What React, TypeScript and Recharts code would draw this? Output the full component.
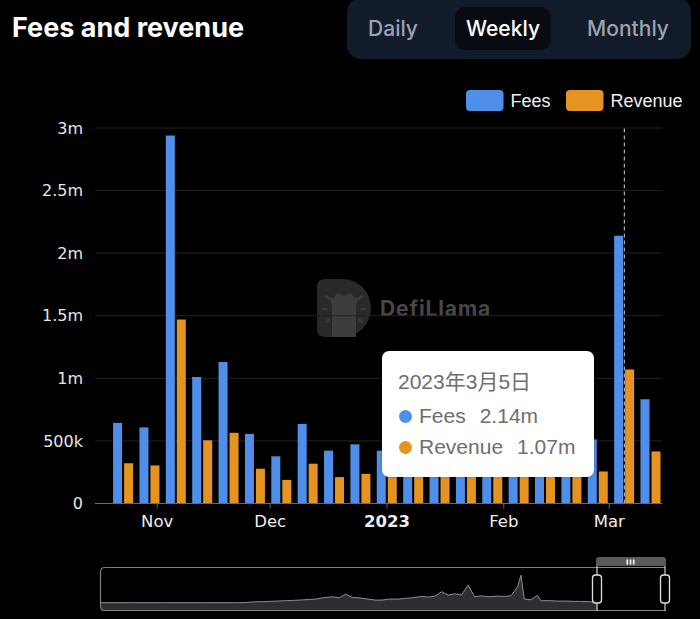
import React from 'react';
import {
  BarChart,
  Bar,
  XAxis,
  YAxis,
  CartesianGrid,
  Tooltip,
  ReferenceLine,
  AreaChart,
  Area,
} from 'recharts';

// ---------- data ----------
const weekStarts = [
  '2022-10-23', '2022-10-30', '2022-11-06', '2022-11-13', '2022-11-20', '2022-11-27',
  '2022-12-04', '2022-12-11', '2022-12-18', '2022-12-25', '2023-01-01', '2023-01-08',
  '2023-01-15', '2023-01-22', '2023-01-29', '2023-02-05', '2023-02-12', '2023-02-19',
  '2023-02-26', '2023-03-05', '2023-03-12',
];
const fees = [
  644000, 608000, 2940000, 1010000, 1130000, 556000, 377000, 636000, 422000, 473000,
  422000, 470000, 510000, 480000, 560000, 450000, 530000, 590000, 512000, 2140000, 832000,
];
const revenue = [
  322000, 304000, 1470000, 505000, 565000, 278000, 188500, 318000, 211000, 236500,
  211000, 235000, 255000, 240000, 280000, 225000, 265000, 295000, 256000, 1070000, 416000,
];
const seriesNames = ['Fees', 'Revenue'];
const seriesColors = ['#4f8fea', '#e59421'];

const yTicks = [0, 500000, 1000000, 1500000, 2000000, 2500000, 3000000];
const yTickLabels = ['0', '500k', '1m', '1.5m', '2m', '2.5m', '3m'];
const xTickDates = ['2022-11-01', '2022-12-01', '2023-01-01', '2023-02-01', '2023-03-01'];
const xTickLabels = ['Nov', 'Dec', '2023', 'Feb', 'Mar'];
const xDomainDates = ['2022-10-15T12:00:00Z', '2023-03-15T00:00:00Z'];
const selectedWeek = '2023-03-05';

// data-zoom shadow (whole history, relative weekly fees)
const shadowWeeks = [
  0, 10, 20, 30, 42, 44, 47, 49, 51, 53, 56, 58, 60, 63, 65, 67, 70, 72, 74, 76, 78, 80,
  83, 85, 87, 90, 92, 94, 97, 99, 101, 103, 105, 107, 109, 111, 113, 115, 117, 120, 122,
  124, 126, 127, 128, 130, 132, 133, 136, 138, 141, 143, 145, 148, 150,
];
const shadowValues = [
  8.3, 8.3, 8.3, 8.3, 8.3, 8.6, 9.3, 9.3, 9.6, 9.9, 10.3, 10.6, 10.9, 11.6, 11.9, 13.2,
  14.2, 13.2, 16.9, 13.6, 13.2, 12.3, 10.9, 10.9, 11.9, 11.9, 12.6, 13.2, 14.6, 13.9,
  14.9, 19.2, 15.9, 17.2, 15.9, 25.8, 14.2, 15.2, 14.2, 14.9, 14.6, 15.2, 24.2, 35.8,
  11.9, 11.3, 15.6, 10.3, 10.3, 9.9, 9.9, 9.6, 9.6, 9.3, 8.9,
];

// ---------- helpers ----------
const toTs = (s: string) => Date.parse(s.length === 10 ? s + 'T00:00:00Z' : s);

const data = weekStarts.map((d, i) => ({
  date: d,
  ts: toTs(d),
  fees: fees[i],
  revenue: revenue[i],
}));
const shadowData = shadowWeeks.map((w, i) => ({ w, v: shadowValues[i] }));
const xTicks = xTickDates.map(toTs);
const xDomain = xDomainDates.map(toTs);
const selectedIndex = weekStarts.indexOf(selectedWeek);

const fmtMoney = (v: number) => {
  if (v >= 1e6) return `${parseFloat((v / 1e6).toFixed(2))}m`;
  if (v >= 1e3) return `${parseFloat((v / 1e3).toFixed(2))}k`;
  return `${v}`;
};

const TICK_FONT = '"DejaVu Sans", sans-serif';

const XTick = (props: any) => {
  const { x, y, payload } = props;
  const idx = xTicks.indexOf(payload.value);
  const label = idx >= 0 ? xTickLabels[idx] : '';
  return (
    <text
      x={x}
      y={y}
      dy="0.71em"
      textAnchor="middle"
      fill="#eeeeee"
      fontSize={16.5}
      fontFamily={TICK_FONT}
      fontWeight={label === '2023' ? 700 : 400}
    >
      {label}
    </text>
  );
};

const TooltipBox = (props: any) => {
  const { payload } = props;
  if (!payload || !payload.length) return null;
  const row = payload[0].payload;
  const [y, m, d] = row.date.split('-').map(Number);
  return (
    <div
      style={{
        width: 212,
        height: 126,
        boxSizing: 'border-box',
        background: '#ffffff',
        borderRadius: 7,
        padding: '15px 0 0 16px',
        fontFamily: '"Liberation Sans", "Noto Sans CJK SC", sans-serif',
        fontSize: 21,
        color: '#6e6e6e',
        boxShadow: '0 0 4px rgba(0,0,0,0.2)',
        whiteSpace: 'nowrap',
      }}
    >
      <div style={{ lineHeight: '32px', height: 32 }}>{`${y}年${m}月${d}日`}</div>
      {payload.map((p: any, i: number) => (
        <div
          key={p.dataKey}
          style={{
            display: 'flex',
            alignItems: 'center',
            height: 31,
            marginTop: i === 0 ? 2.5 : 0,
          }}
        >
          <span
            style={{
              display: 'inline-block',
              width: 13,
              height: 13,
              borderRadius: '50%',
              background: p.color,
              marginLeft: 0.5,
              marginRight: 7.5,
            }}
          />
          <span>{p.name}</span>
          <span style={{ marginLeft: 14 }}>{fmtMoney(p.value)}</span>
        </div>
      ))}
    </div>
  );
};

const Watermark = () => (
  <svg
    width={700}
    height={619}
    style={{ position: 'absolute', left: 0, top: 0 }}
  >
    <path
      d="M317 287 Q317 279 325 279 H343 A28 29 0 0 1 343 337 H325 Q317 337 317 329 Z"
      fill="#292929"
    />
    <path
      d="M332 337 V306 L329 296 L333 299 L337 293 L344 296 L351 293 L355 299 L359 296 L356 306 V337 Z"
      fill="#3d3d3d"
    />
    <g stroke="#3d3d3d" strokeWidth={2} strokeLinecap="round">
      <line x1={326} y1={296} x2={329} y2={299} />
      <line x1={323} y1={309} x2={326} y2={309} />
      <line x1={326} y1={322} x2={329} y2={319} />
      <line x1={362} y1={296} x2={359} y2={299} />
      <line x1={365} y1={309} x2={362} y2={309} />
      <line x1={362} y1={322} x2={359} y2={319} />
    </g>
    <text
      x={380}
      y={316}
      fill="#474747"
      fontSize={21}
      letterSpacing={0.9}
      fontWeight={700}
      fontFamily="Inter, sans-serif"
    >
      DefiLlama
    </text>
  </svg>
);

const Header = () => (
  <svg width={700} height={120} style={{ position: 'absolute', left: 0, top: 0 }}>
    <text x={12} y={37} fill="#ffffff" fontSize={27} fontWeight={700} fontFamily="Inter, sans-serif">
      Fees and revenue
    </text>
    <rect x={347} y={-2} width={344} height={61} rx={14} fill="#121b2a" />
    <rect x={455} y={7} width={96} height={43} rx={10} fill="#080b12" />
    <g fontFamily="Inter, sans-serif" fontSize={21} fontWeight={500} textAnchor="middle">
      <text x={393} y={36} fill="#9ca3af">Daily</text>
      <text x={503} y={36} fill="#ffffff">Weekly</text>
      <text x={628} y={36} fill="#9ca3af">Monthly</text>
    </g>
    {seriesNames.map((n, i) => {
      const x0 = i === 0 ? 466 : 566;
      return (
        <g key={n}>
          <rect x={x0} y={90} width={37.5} height={21} rx={4} fill={seriesColors[i]} />
          <text
            x={x0 + 44.5}
            y={106.5}
            fill="#f0f0f0"
            fontSize={18}
            fontFamily='"Liberation Sans", sans-serif'
          >
            {n}
          </text>
        </g>
      );
    })}
  </svg>
);

const ZoomChrome = () => (
  <svg
    width={700}
    height={619}
    style={{ position: 'absolute', left: 0, top: 0, pointerEvents: 'none' }}
  >
    <path
      d="M597 567.5 H105 Q100.5 567.5 100.5 572 V606 Q100.5 610.5 105 610.5 H597"
      fill="none"
      stroke="#7d7d7d"
      strokeWidth={1.2}
    />
    <line x1={597} y1={567.5} x2={665} y2={567.5} stroke="#8a8a8a" strokeWidth={1.2} />
    <line x1={597} y1={610.5} x2={665} y2={610.5} stroke="#8a8a8a" strokeWidth={1.2} />
    <line x1={597} y1={566} x2={597} y2={611} stroke="#d0d0d0" strokeWidth={1.2} />
    <line x1={665} y1={566} x2={665} y2={611} stroke="#d0d0d0" strokeWidth={1.2} />
    <path d="M596 566 V560 Q596 557 599 557 H663 Q666 557 666 560 V566 Z" fill="#5a5a5a" />
    <rect x={626.5} y={559.5} width={1.6} height={5} fill="#ffffff" />
    <rect x={629.7} y={559.5} width={1.6} height={5} fill="#ffffff" />
    <rect x={632.9} y={559.5} width={1.6} height={5} fill="#ffffff" />
    <rect x={592.5} y={575} width={9} height={28} rx={3} fill="#000" stroke="#e0e0e0" strokeWidth={1.3} />
    <rect x={660.5} y={575} width={9} height={28} rx={3} fill="#000" stroke="#e0e0e0" strokeWidth={1.3} />
  </svg>
);

export default function App() {
  return (
    <div
      style={{
        position: 'absolute',
        left: 0,
        top: 0,
        width: 700,
        height: 619,
        background: '#000000',
        overflow: 'hidden',
      }}
    >
      <Watermark />
      <Header />
      <div style={{ position: 'absolute', left: 0, top: 0 }}>
        <BarChart
          width={700}
          height={540}
          data={data}
          margin={{ top: 128, right: 38, bottom: 6.5, left: 0 }}
          barGap={2}
          barSize={9}
        >
          <CartesianGrid vertical={false} stroke="#232323" />
          <XAxis
            dataKey="ts"
            type="number"
            domain={xDomain}
            ticks={xTicks}
            interval={0}
            allowDataOverflow
            height={30}
            tick={<XTick />}
            axisLine={{ stroke: '#6b6b6b' }}
            tickLine={{ stroke: '#6b6b6b' }}
            tickSize={5}
            tickMargin={7}
          />
          <YAxis
            width={95}
            domain={[0, 3000000]}
            ticks={yTicks}
            interval={0}
            axisLine={false}
            tickLine={false}
            tickMargin={6}
            tickFormatter={(v: number) => yTickLabels[yTicks.indexOf(v)] ?? ''}
            tick={{ fill: '#e6e6e6', fontSize: 16, fontFamily: TICK_FONT }}
          />
          <Bar dataKey="fees" name={seriesNames[0]} fill={seriesColors[0]} isAnimationActive={false} />
          <Bar dataKey="revenue" name={seriesNames[1]} fill={seriesColors[1]} isAnimationActive={false} />
          <ReferenceLine
            x={toTs(selectedWeek)}
            stroke="#cfcfcf"
            strokeDasharray="4 3"
            strokeWidth={1}
          />
          <Tooltip
            active
            defaultIndex={selectedIndex}
            cursor={false}
            position={{ x: 382, y: 351 }}
            content={<TooltipBox />}
            isAnimationActive={false}
            wrapperStyle={{ outline: 'none' }}
          />
        </BarChart>
      </div>
      <div style={{ position: 'absolute', left: 101, top: 567 }}>
        <AreaChart
          width={496}
          height={44}
          data={shadowData}
          margin={{ top: 0, right: 0, bottom: 0, left: 0 }}
        >
          <XAxis dataKey="w" type="number" domain={[0, 150]} hide />
          <YAxis domain={[0, 44]} hide />
          <Area
            dataKey="v"
            type="linear"
            stroke="#8f8f8f"
            strokeWidth={1}
            fill="#2d2e33"
            fillOpacity={1}
            dot={false}
            activeDot={false}
            isAnimationActive={false}
          />
        </AreaChart>
      </div>
      <ZoomChrome />
    </div>
  );
}
